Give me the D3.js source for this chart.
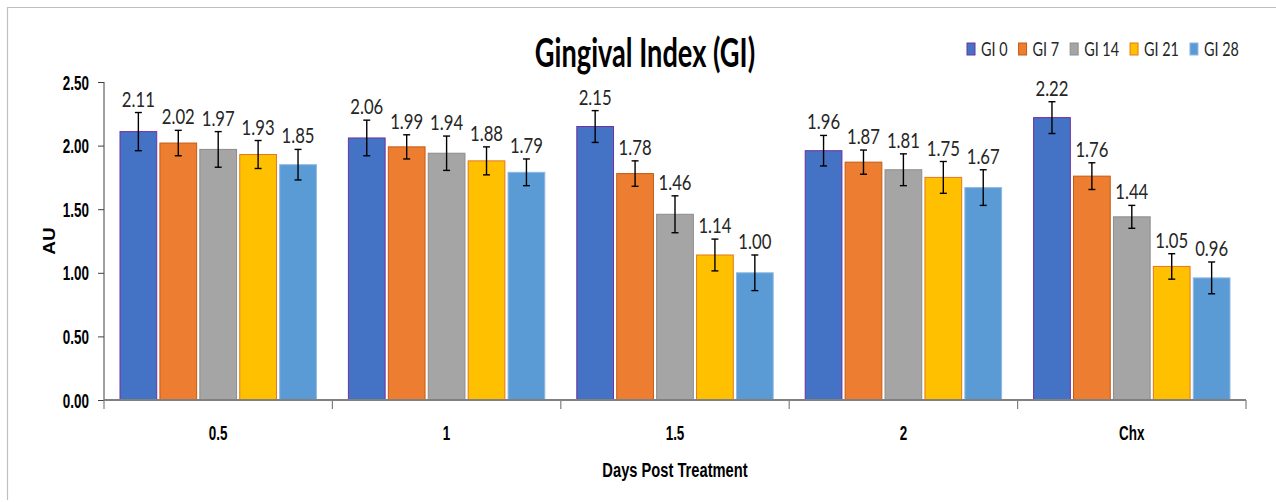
<!DOCTYPE html>
<html><head><meta charset="utf-8">
<script src="https://cdn.jsdelivr.net/npm/d3@7"></script>
<style>
html,body{margin:0;padding:0;background:#fff;}
svg{display:block;}
</style></head>
<body>
<svg id="chart" width="1276" height="502"></svg>
<script>
// ---- data ----
const categories = ["0.5", "1", "1.5", "2", "Chx"];
const seriesNames = ["GI 0", "GI 7", "GI 14", "GI 21", "GI 28"];
const gi0  = [2.11, 2.06, 2.15, 1.96, 2.22];
const gi7  = [2.02, 1.99, 1.78, 1.87, 1.76];
const gi14 = [1.97, 1.94, 1.46, 1.81, 1.44];
const gi21 = [1.93, 1.88, 1.14, 1.75, 1.05];
const gi28 = [1.85, 1.79, 1.00, 1.67, 0.96];
const err0  = [0.15, 0.14, 0.125, 0.12, 0.125];
const err7  = [0.10, 0.095, 0.10, 0.095, 0.105];
const err14 = [0.14, 0.135, 0.145, 0.125, 0.09];
const err21 = [0.11, 0.11, 0.125, 0.125, 0.10];
const err28 = [0.12, 0.105, 0.14, 0.14, 0.125];
const yTicks = [0, 0.5, 1.0, 1.5, 2.0, 2.5];
const title = "Gingival Index (GI)";
const xTitle = "Days Post Treatment";
const yTitle = "AU";

const values = [gi0, gi7, gi14, gi21, gi28];
const errors = [err0, err7, err14, err21, err28];
const fills   = ["#4472C4", "#ED7D31", "#A5A5A5", "#FFC000", "#5B9BD5"];
const strokes = ["#7030A0", "#C55A11", "#8C8C8C", "#E3781E", "#8DB8E2"];

const svg = d3.select("#chart");
const m = {left: 104, right: 1246, top: 82, bottom: 400};

// border
svg.append("path").attr("d", "M7.5,500 L7.5,7.5 L1276,7.5")
  .attr("fill", "none").attr("stroke", "#BFBFBF").attr("stroke-width", 1.2);

function addText(g, str, x, y, o) {
  return g.append("text")
    .attr("transform", `translate(${x},${y}) ${o.rot ? "rotate(" + o.rot + ")" : ""} scale(${o.kx || 1},${o.ky || 1})`)
    .attr("text-anchor", o.anchor || "middle")
    .attr("font-family", o.family || "Lato, 'Open Sans', sans-serif")
    .attr("font-weight", o.weight || "normal")
    .attr("font-size", o.size)
    .attr("fill", o.fill || "#000")
    .text(str);
}

const x0 = d3.scaleBand().domain(categories).range([m.left, m.right]).padding(0);
const x1 = d3.scaleBand().domain(seriesNames).range([16, x0.bandwidth() - 16]).paddingInner(0.08);
const y = d3.scaleLinear().domain([0, 2.5]).range([m.bottom, m.top]);

// bars
seriesNames.forEach((s, si) => {
  const g = svg.append("g");
  g.selectAll("rect").data(categories).join("rect")
    .attr("x", (c) => x0(c) + x1(s))
    .attr("y", (c, i) => y(values[si][i]))
    .attr("width", x1.bandwidth())
    .attr("height", (c, i) => y(0) - y(values[si][i]))
    .attr("fill", fills[si])
    .attr("stroke", strokes[si])
    .attr("stroke-width", 1);
});

// error bars
seriesNames.forEach((s, si) => {
  categories.forEach((c, i) => {
    const cx = x0(c) + x1(s) + x1.bandwidth() / 2;
    const v = values[si][i], e = errors[si][i];
    const g = svg.append("g").attr("stroke", "#000").attr("stroke-width", 1.4);
    g.append("line").attr("x1", cx).attr("x2", cx).attr("y1", y(v + e)).attr("y2", y(v - e));
    g.append("line").attr("x1", cx - 3.5).attr("x2", cx + 3.5).attr("y1", y(v + e)).attr("y2", y(v + e));
    g.append("line").attr("x1", cx - 3.5).attr("x2", cx + 3.5).attr("y1", y(v - e)).attr("y2", y(v - e));
  });
});

// data labels
seriesNames.forEach((s, si) => {
  categories.forEach((c, i) => {
    const cx = x0(c) + x1(s) + x1.bandwidth() / 2;
    const v = values[si][i], e = errors[si][i];
    addText(svg, v.toFixed(2), cx, y(v + e) - 6, {size: 22, kx: 0.76, fill: "#262626"});
  });
});

// y axis
const yAxis = d3.axisLeft(y).tickValues(yTicks).tickSize(6).tickPadding(0).tickFormat("");
const yg = svg.append("g").attr("transform", `translate(${m.left},0)`).call(yAxis);
yg.selectAll("path,line").attr("stroke", "#404040").attr("stroke-width", 1);
yg.select(".domain").attr("d", `M0,${y(2.5)}V${y(0)}`);
yTicks.forEach(t => {
  addText(svg, t.toFixed(2), 89, y(t) + 7.5, {size: 21, kx: 0.64, anchor: "end", weight: "bold",
    family: "'Liberation Sans', Arial, sans-serif"});
});

// x axis
const xg = svg.append("g").attr("transform", `translate(0,${m.bottom})`);
xg.append("line").attr("x1", m.left).attr("x2", m.right).attr("y1", 0).attr("y2", 0)
  .attr("stroke", "#808080").attr("stroke-width", 2);
const bounds = categories.map(c => x0(c)).concat([x0(categories[categories.length - 1]) + x0.bandwidth()]);
xg.selectAll("line.tk").data(bounds).join("line").attr("class", "tk")
  .attr("x1", d => d).attr("x2", d => d).attr("y1", 0).attr("y2", 9)
  .attr("stroke", "#808080").attr("stroke-width", 1.2);
categories.forEach(c => {
  addText(svg, c, x0(c) + x0.bandwidth() / 2, 440, {size: 21, kx: 0.64, weight: "bold",
    family: "'Liberation Sans', Arial, sans-serif"});
});

// axis titles
addText(svg, xTitle, (m.left + m.right) / 2, 477, {size: 21, kx: 0.7, weight: "bold",
  family: "'Liberation Sans', Arial, sans-serif"});
addText(svg, yTitle, 55, (m.top + m.bottom) / 2, {size: 19, rot: -90, ky: 0.85, weight: "bold",
  family: "'Liberation Sans', Arial, sans-serif"});

// title
addText(svg, title, 645, 67, {size: 40, kx: 0.68, weight: "bold"});

// legend
let lx = 967;
seriesNames.forEach((s, si) => {
  svg.append("rect").attr("x", lx).attr("y", 43).attr("width", 8).attr("height", 12)
    .attr("fill", fills[si]).attr("stroke", strokes[si]).attr("stroke-width", 1);
  const t = addText(svg, s, lx + 14, 56, {size: 20, kx: 0.72, anchor: "start", fill: "#262626"});
  const w = t.node().getComputedTextLength() * 0.72;
  lx = lx + 14 + w + 11;
});
</script>
</body></html>
